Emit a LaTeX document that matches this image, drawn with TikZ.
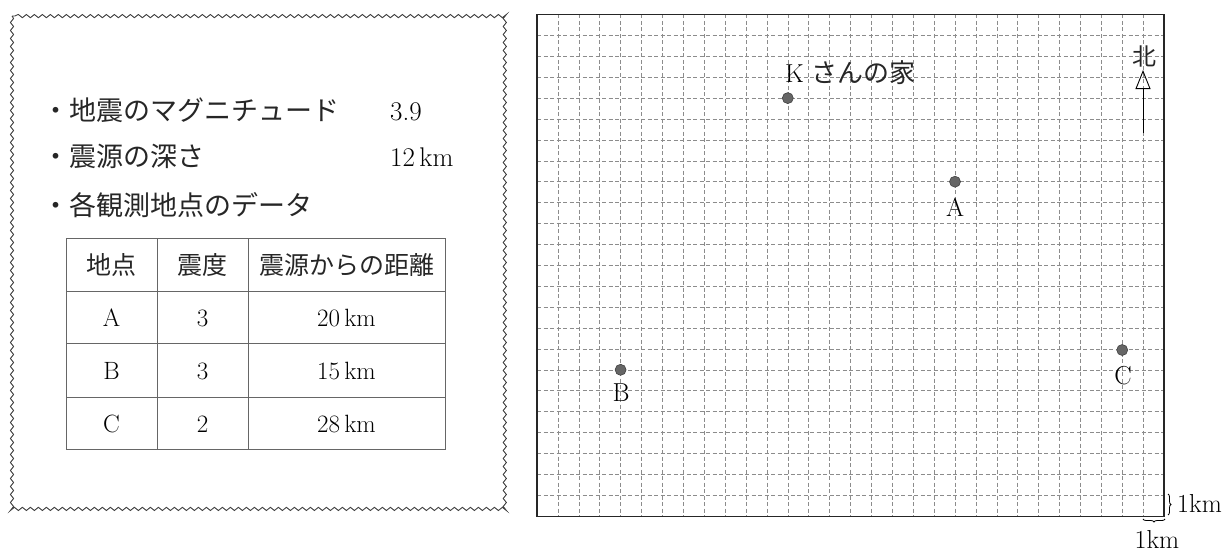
\documentclass[tikz,border=0pt]{standalone}
\usepackage{fontspec}
\newfontfamily\jp{Noto Sans CJK JP}
\usetikzlibrary{decorations.pathmorphing,decorations.pathreplacing,arrows.meta}
\begin{document}
\begin{tikzpicture}[x=1pt,y=-1pt,
  wavy/.style={draw=black!75, line width=0.9pt, decorate, decoration={snake,segment length=8pt,amplitude=1.6pt}},
  gridline/.style={draw=black!45, line width=0.5pt, dash pattern=on 4pt off 2.5pt},
  frameline/.style={draw=black!85, line width=1.1pt},
  tabline/.style={draw=black!60, line width=0.8pt},
  dot/.style={circle, fill=black!60, draw=black!75, line width=0.6pt, minimum size=11pt, inner sep=0pt},
  lbl/.style={inner sep=0pt, font=\fontsize{26}{26}\selectfont},
  maintext/.style={inner sep=0pt, anchor=base west, font=\fontsize{27}{27}\selectfont},
  tabtext/.style={inner sep=0pt, anchor=base, font=\fontsize{25}{25}\selectfont},
  jptext/.style={text=black!85},
]
\useasboundingbox (0,0) rectangle (1229,551);
% left box
\draw[wavy] (12,16) rectangle (508,510);
\node[maintext, jptext] (t1) at (42,121) {\jp ・地震のマグニチュード};
\node[maintext] (v1) at (390,121) {3.9};
\node[maintext, jptext] (t2) at (42,166) {\jp ・震源の深さ};
\node[maintext] (v2) at (390,166) {12\,km};
\node[maintext, jptext] (t3) at (42,215) {\jp ・各観測地点のデータ};
% table
\draw[tabline] (66,238) rectangle (445,449);
\foreach \y in {291,343,397} \draw[tabline] (66,\y) -- (445,\y);
\foreach \x in {157,248} \draw[tabline] (\x,238) -- (\x,449);
\node[tabtext, jptext] (h1) at (111.5,274) {\jp 地点};
\node[tabtext, jptext] (h2) at (202.5,274) {\jp 震度};
\node[tabtext, jptext] (h3) at (346.5,274) {\jp 震源からの距離};
\node[tabtext] (a1) at (111.5,326) {A};
\node[tabtext] (a2) at (202.5,326) {3};
\node[tabtext] (a3) at (346.5,326) {20\,km};
\node[tabtext] (b1) at (111.5,379) {B};
\node[tabtext] (b2) at (202.5,379) {3};
\node[tabtext] (b3) at (346.5,379) {15\,km};
\node[tabtext] (c1) at (111.5,432) {C};
\node[tabtext] (c2) at (202.5,432) {2};
\node[tabtext] (c3) at (346.5,432) {28\,km};
% grid
\foreach \i in {1,...,29} \draw[gridline] ({537+\i*20.9},14.5) -- ({537+\i*20.9},516.1);
\foreach \j in {1,...,23} \draw[gridline] (537,{14.5+\j*20.9}) -- (1164,{14.5+\j*20.9});
\draw[frameline] (537,14.5) rectangle (1164,516.1);
% points
\node[dot] (K) at (787.8,98.1) {};
\node[dot] (A) at (955,181.7) {};
\node[dot] (B) at (620.6,369.8) {};
\node[dot] (C) at (1122.2,350) {};
\node[lbl, anchor=base west] (klbl) at (785,83) {K {\jp\color{black!85} さんの家}};
\node[lbl] (albl) at (955,207) {A};
\node[lbl] (blbl) at (621,393) {B};
\node[lbl] (clbl) at (1123,376) {C};
% north
\node[inner sep=0pt, jptext, font=\jp\fontsize{24}{24}\selectfont] (north) at (1144,56) {北};
\coordinate (nb) at (1143,133);
\coordinate (nt) at (1143,70);
\draw[line width=0.9pt, -{Triangle[open,length=19pt,width=15pt,line width=0.9pt]}] (nb) -- (nt);
% scale braces
\coordinate (br1) at (1168,494);
\coordinate (br2) at (1168,515);
\draw[decorate, decoration={brace,amplitude=3pt}, line width=0.8pt] (br1) -- (br2);
\node[lbl, anchor=base west] (km1) at (1177,512) {1km};
\coordinate (bb1) at (1165,519);
\coordinate (bb2) at (1143,519);
\draw[decorate, decoration={brace,amplitude=3pt}, line width=0.8pt] (bb1) -- (bb2);
\node[lbl, anchor=base] (km2) at (1157,548) {1km};
\end{tikzpicture}
\end{document}
